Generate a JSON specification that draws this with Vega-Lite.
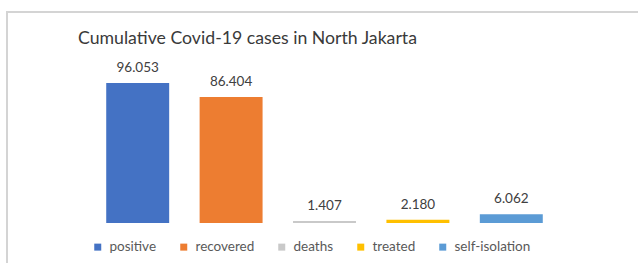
{
  "$schema": "https://vega.github.io/schema/vega-lite/v6.json",
  "autosize": "none",
  "width": 660,
  "height": 280,
  "padding": {"left": 7, "top": 12, "right": -29, "bottom": -29},
  "background": "white",
  "title": {
    "text": "Cumulative Covid-19 cases in North Jakarta",
    "anchor": "start",
    "dx": 71,
    "offset": -50,
    "baseline": "alphabetic",
    "font": "Lato",
    "fontSize": 17.7,
    "fontWeight": "normal",
    "color": "#3a3a3a"
  },
  "config": {
    "view": {"stroke": "#d4d4d4", "strokeWidth": 2},
    "font": "Lato",
    "locale": {"number": {"decimal": ",", "thousands": ".", "grouping": [3], "currency": ["", ""]}}
  },
  "data": {
    "values": [
      {"category": "positive", "cases": 96053},
      {"category": "recovered", "cases": 86404},
      {"category": "deaths", "cases": 1407},
      {"category": "treated", "cases": 2180},
      {"category": "self-isolation", "cases": 6062}
    ]
  },
  "encoding": {
    "x": {
      "field": "category",
      "type": "nominal",
      "sort": null,
      "axis": null,
      "scale": {"range": [84, 551], "paddingInner": 0.326, "paddingOuter": 0.163}
    },
    "y": {
      "field": "cases",
      "type": "quantitative",
      "axis": null,
      "scale": {"domain": [0, 96053], "range": [211, 71], "nice": false, "zero": true}
    }
  },
  "layer": [
    {
      "mark": {"type": "bar", "minBandSize": 2},
      "encoding": {
        "color": {
          "field": "category",
          "type": "nominal",
          "sort": null,
          "scale": {
            "domain": ["positive", "recovered", "deaths", "treated", "self-isolation"],
            "range": ["#4472C4", "#ED7D31", "#C9C9C9", "#FFC000", "#5B9BD5"]
          },
          "legend": {
            "title": null,
            "orient": "none",
            "legendX": 84,
            "legendY": 228,
            "direction": "horizontal",
            "symbolType": "square",
            "symbolSize": 49,
            "symbolStrokeWidth": 0,
            "labelFontSize": 13.5,
            "labelColor": "#595959",
            "labelFont": "Lato",
            "labelOffset": 5,
            "columnPadding": 20
          }
        }
      }
    },
    {
      "mark": {"type": "text", "baseline": "alphabetic", "dy": -11, "fontSize": 13.5, "color": "#404040", "font": "Lato"},
      "encoding": {
        "text": {"field": "cases", "type": "quantitative", "format": ",d"}
      }
    }
  ]
}
